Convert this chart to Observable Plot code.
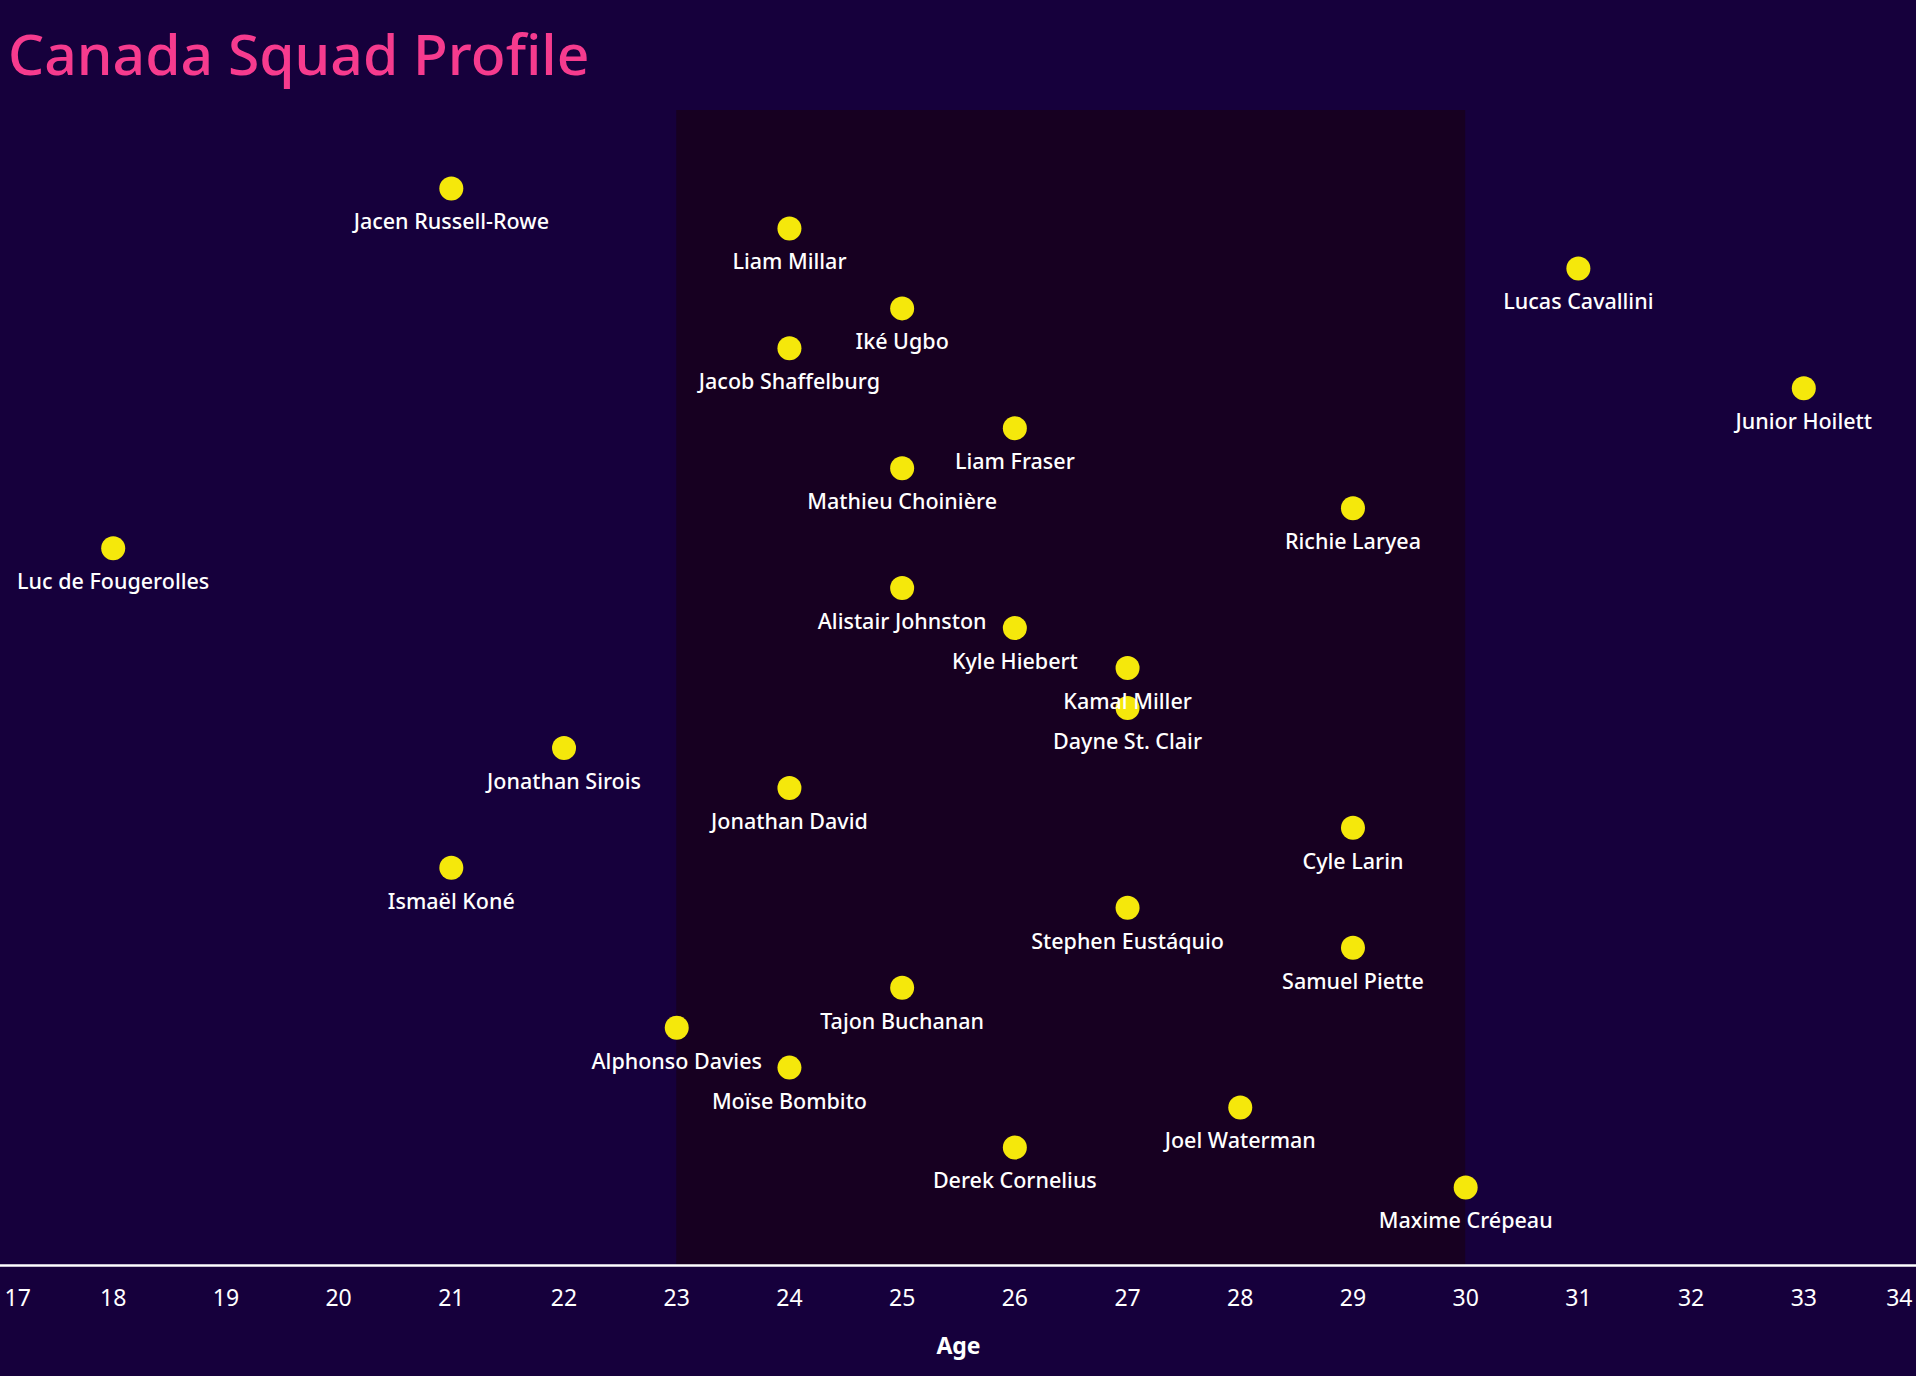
<!DOCTYPE html>
<html>
<head>
<meta charset="utf-8">
<script src="https://cdn.jsdelivr.net/npm/d3@7"></script>
<script src="https://cdn.jsdelivr.net/npm/@observablehq/plot@0.6"></script>
<style>
  html, body { margin: 0; padding: 0; background: #16003c; }
  #title {
    height: 90px; box-sizing: border-box; padding: 14px 0 0 8px;
    font-family: "Noto Sans", sans-serif; font-weight: 500; font-size: 57px;
    color: #f63b8e; line-height: normal; white-space: nowrap;
  }
  #chart svg { display: block; }
</style>
</head>
<body>
<div id="title">Canada Squad Profile</div>
<div id="chart"></div>
<script>
// Players in top-to-bottom order
const players = [
  "Jacen Russell-Rowe", "Liam Millar", "Lucas Cavallini", "Iké Ugbo", "Jacob Shaffelburg",
  "Junior Hoilett", "Liam Fraser", "Mathieu Choinière", "Richie Laryea", "Luc de Fougerolles",
  "Alistair Johnston", "Kyle Hiebert", "Kamal Miller", "Dayne St. Clair", "Jonathan Sirois",
  "Jonathan David", "Cyle Larin", "Ismaël Koné", "Stephen Eustáquio", "Samuel Piette",
  "Tajon Buchanan", "Alphonso Davies", "Moïse Bombito", "Joel Waterman", "Derek Cornelius",
  "Maxime Crépeau"
];
const ages = [
  21, 24, 31, 25, 24,
  33, 26, 25, 29, 18,
  25, 26, 27, 27, 22,
  24, 29, 21, 27, 29,
  25, 23, 24, 28, 26,
  30
];
const ageTicks = [17, 18, 19, 20, 21, 22, 23, 24, 25, 26, 27, 28, 29, 30, 31, 32, 33, 34];
const peakAges = [23, 30];

const data = players.map((name, i) => ({name, age: ages[i], order: i + 1}));
const band = [{from: peakAges[0], to: peakAges[1]}];

const midTicks = ageTicks.slice(1, -1);
const firstTick = ageTicks.slice(0, 1);
const lastTick = ageTicks.slice(-1);

const chart = Plot.plot({
  width: 1916,
  height: 1286,
  marginTop: 20,
  marginBottom: 111,
  marginLeft: 0,
  marginRight: 0,
  style: {background: "transparent", color: "white", fontFamily: "Noto Sans, sans-serif"},
  x: {domain: [ageTicks[0], ageTicks[ageTicks.length - 1]]},
  y: {domain: [-0.952, 27.952], reverse: true, axis: null},
  marks: [
    Plot.rect(band, {x1: "from", x2: "to", fill: "#170021"}),
    Plot.frame({anchor: "bottom", stroke: "white", strokeWidth: 2.5}),
    Plot.axisX(midTicks, {tickSize: 0, tickPadding: 24, fontSize: 23, label: null, fill: "white"}),
    Plot.axisX(firstTick, {tickSize: 0, tickPadding: 24, fontSize: 23, label: null, textAnchor: "start", dx: 4, fill: "white"}),
    Plot.axisX(lastTick, {tickSize: 0, tickPadding: 24, fontSize: 23, label: null, textAnchor: "end", dx: -4, fill: "white"}),
    Plot.axisX([], {tickSize: 0, label: "Age", labelAnchor: "center", labelOffset: 88, labelArrow: "none", fontSize: 23, fontWeight: "bold", fill: "white"}),
    Plot.dot(data, {x: "age", y: "order", r: 12, fill: "#f5e80b", stroke: "none"}),
    Plot.text(data, {x: "age", y: "order", text: "name", dy: 34, fontSize: 21.5, fontWeight: 500, fill: "white"})
  ]
});
document.getElementById("chart").appendChild(chart);
</script>
</body>
</html>
